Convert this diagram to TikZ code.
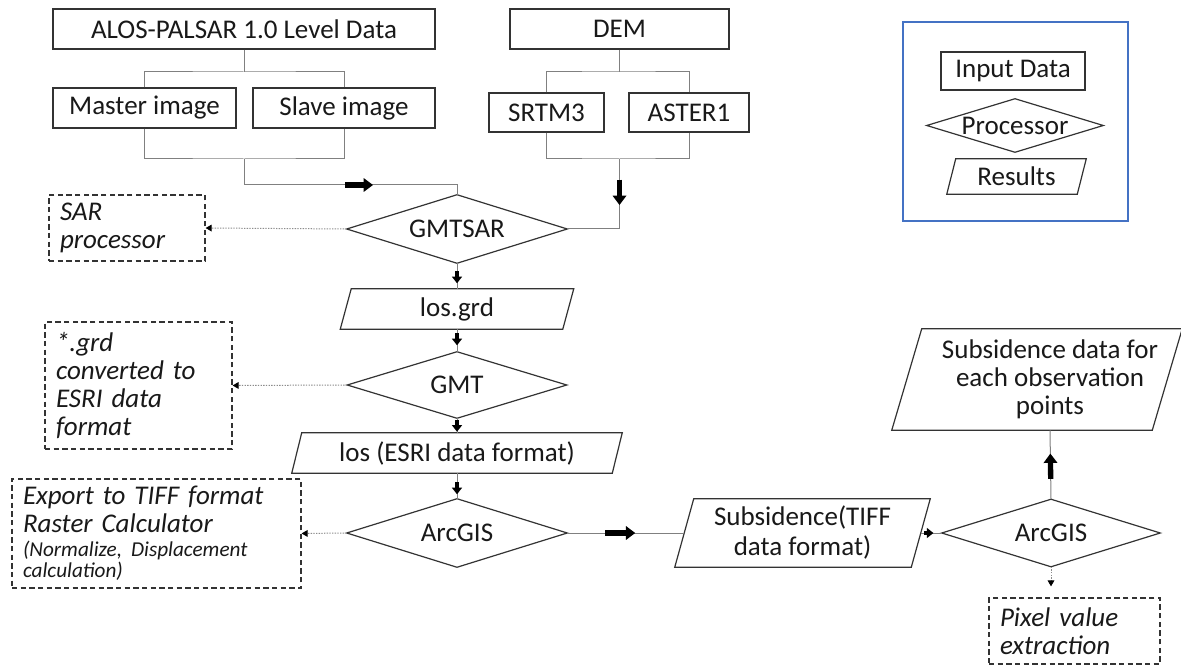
\documentclass[tikz,border=0pt]{standalone}
\usepackage{fontspec}
\setmainfont{Carlito}
\usetikzlibrary{arrows.meta,decorations.markings,calc}
\def\PX{0.75pt}
\newcommand\bigfont{\fontsize{20.25}{22.5}\selectfont}
\newcommand\notefont{\fontsize{20.25}{21}\selectfont\itshape}
\newcommand\smallnote{\fontsize{15.9}{15.75}\selectfont\itshape}
\definecolor{legblue}{RGB}{68,114,196}
\tikzset{
  outl/.style={draw=black!80, line width=0.9pt},
  conn/.style={draw=black!50, line width=0.75pt},
  inbox/.style={rectangle, outl, inner sep=0pt, font=\bigfont, text=black!90},
  shp/.style={rectangle, draw=none, inner sep=0pt, font=\bigfont, text=black!90, align=center},
  notebox/.style={rectangle, draw=black!80, line width=0.9pt, dash pattern=on 4pt off 2.5pt, inner xsep=11*\PX, inner ysep=0pt, align=left, font=\notefont, text=black!90},
  dotarr/.style={draw=black!45, line width=0.75pt, dash pattern=on 1pt off 1pt, -{Triangle[length=4.5pt,width=5pt,color=black]}},
  bigarr/.style={black, line width=4pt, -{Triangle[length=7pt,width=10pt]}},
  smallarr/.style={black, line width=3pt, -{Triangle[length=5pt,width=7.5pt]}},
  thick mark/.style n args={3}{postaction={decorate, decoration={markings, mark=at position #1 with {\draw[#3] (-#2/2,0) -- (#2/2,0);}}}},
}
\begin{document}
\begin{tikzpicture}[x=0.75pt,y=-0.75pt]
\useasboundingbox (0,0) rectangle (1181,666);
\fill[white] (0,0) rectangle (1181,666);

% input data boxes
\node[inbox, minimum width=382*\PX, minimum height=40*\PX] (alos) at (244,29) {ALOS-PALSAR 1.0 Level Data};
\node[inbox, minimum width=183*\PX, minimum height=40*\PX] (master) at (144.5,108) {Master image};
\node[inbox, minimum width=182*\PX, minimum height=40*\PX] (slave) at (344,108) {Slave image};
\node[inbox, minimum width=219*\PX, minimum height=40*\PX] (dem) at (619.5,29) {DEM};
\node[inbox, minimum width=115*\PX, minimum height=39*\PX] (srtm) at (546.5,112.5) {SRTM3};
\node[inbox, minimum width=120*\PX, minimum height=39*\PX] (aster) at (689,112.5) {ASTER1};

% processors and results
\node[shp, minimum width=220*\PX, minimum height=68*\PX] (gmtsar) at (457,229) {GMTSAR};
\node[shp, minimum width=222*\PX, minimum height=40*\PX] (losgrd) at (457,309) {los.grd};
\node[shp, minimum width=219*\PX, minimum height=66*\PX] (gmt) at (457,385) {GMT};
\node[shp, minimum width=320*\PX, minimum height=40*\PX] (losesri) at (457,453) {los (ESRI data format)};
\node[shp, minimum width=220*\PX, minimum height=68*\PX] (arc1) at (457,533) {ArcGIS};
\node[shp, minimum width=236*\PX, minimum height=68*\PX] (subs) at (802.5,533) {Subsidence(TIFF\\data format)};
\node[shp, minimum width=218*\PX, minimum height=67*\PX] (arc2) at (1051,533) {ArcGIS};
\node[shp, minimum width=260*\PX, minimum height=101*\PX, font=\fontsize{20.25}{21}\selectfont] (subdata) at (1050,379.5) {Subsidence data for\\each observation\\points};

% legend
\node[rectangle, draw=legblue, line width=0.9pt, minimum width=225*\PX, minimum height=199*\PX] (legend) at (1015.5,121.5) {};
\node[inbox, minimum width=144*\PX, minimum height=38*\PX] (lin) at (1013,71) {Input Data};
\node[shp, minimum width=176*\PX, minimum height=53*\PX] (lproc) at (1015,125.5) {Processor};
\node[shp, minimum width=130*\PX, minimum height=35*\PX] (lres) at (1016.5,176.5) {Results};

% diamond and parallelogram outlines
\foreach \n in {gmtsar,gmt,arc1,arc2,lproc}
  \draw[outl] (\n.north) -- (\n.east) -- (\n.south) -- (\n.west) -- cycle;
\foreach \n/\s/\d in {losgrd/11/0,losesri/10/0,subs/19/0,subdata/30/-13,lres/9/0}
  \draw[outl] ($(\n.south west)+(-\s/2+\d,0)$) -- ($(\n.south east)+(-\s/2+\d,0)$) -- ($(\n.north east)+(\s/2+\d,0)$) -- ($(\n.north west)+(\s/2+\d,0)$) -- cycle;

% note boxes
\node[notebox, minimum width=156*\PX, minimum height=66*\PX, text width=134*\PX] (sar) at (127,228) {SAR\\processor};
\node[notebox, minimum width=187*\PX, minimum height=127*\PX, text width=165*\PX] (grd) at (138.5,385.5) {*.grd\\converted to\\ESRI data\\format};
\node[notebox, minimum width=289*\PX, minimum height=109*\PX, text width=267*\PX] (export) at (156.5,533.5) {Export to TIFF format\\Raster Calculator\par\vspace{2pt}{\smallnote (Normalize, Displacement\\calculation)\par}};
\node[notebox, minimum width=171*\PX, minimum height=66*\PX, text width=149*\PX] (pixel) at (1074.5,631) {Pixel value\\extraction};

% tree connectors
\coordinate (brA) at (244,72);
\coordinate (joinA) at (244,159);
\coordinate (bendA) at (244,185);
\draw[conn] (alos.south) -- (brA);
\draw[conn] (master.north) |- (brA) -| (slave.north);
\draw[conn] (master.south) |- (joinA) -| (slave.south);
\draw[conn, thick mark={105.75pt}{21pt}{bigarr}] (joinA) -- (bendA) -| (gmtsar.north);

\coordinate (brB) at (619.5,72);
\coordinate (joinB) at (619.5,159);
\draw[conn] (dem.south) -- (brB);
\draw[conn] (srtm.north) |- (brB) -| (aster.north);
\draw[conn] (srtm.south) |- (joinB) -| (aster.south);
\draw[conn, thick mark={25pt}{19pt}{bigarr}] (joinB) |- (gmtsar.east);

% main flow
\draw[conn, thick mark={10.5pt}{9pt}{smallarr}] (gmtsar.south) -- (losgrd.north);
\draw[conn, thick mark={7.5pt}{9pt}{smallarr}] (losgrd.south) -- (gmt.north);
\draw[conn, thick mark={5.6pt}{9pt}{smallarr}] (gmt.south) -- (losesri.north);
\draw[conn, thick mark={11.25pt}{9pt}{smallarr}] (losesri.south) -- (arc1.north);
\draw[conn, thick mark={39.75pt}{22.5pt}{bigarr}] (arc1.east) -- (subs.west);
\draw[conn, thick mark={6pt}{7pt}{smallarr}] (subs.east) -- (arc2.west);
\draw[conn, thick mark={24.75pt}{19pt}{bigarr}] (arc2.north) -- (subdata.south);

% dotted annotations
\draw[dotarr] (gmtsar.west) -- (sar.east);
\draw[dotarr] (gmt.west) -- (grd.east);
\draw[dotarr] (arc1.west) -- (export.east);
\draw[dotarr, shorten >=8.25pt] (arc2.south) -- (pixel.north -| arc2.south);
\end{tikzpicture}
\end{document}
